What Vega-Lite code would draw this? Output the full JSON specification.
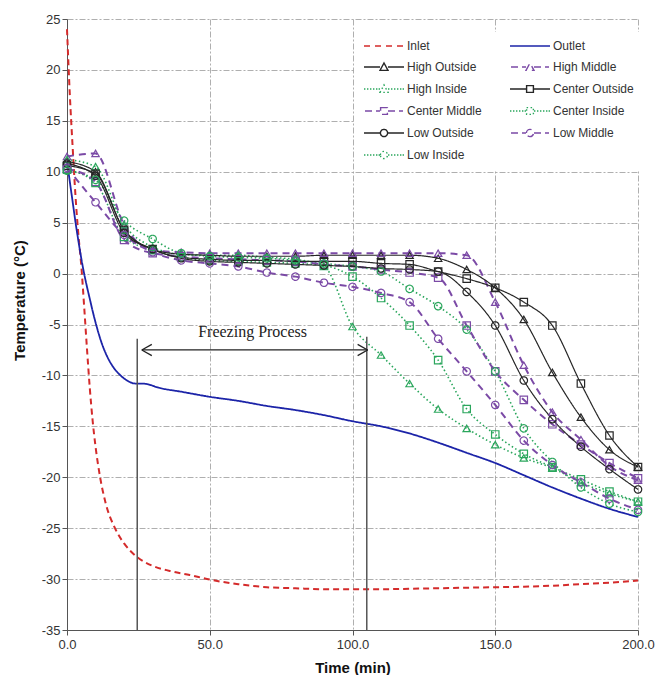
{
  "$schema": "https://vega.github.io/schema/vega-lite/v6.json",
  "width": 571,
  "height": 611,
  "autosize": "none",
  "padding": {"left": 67, "top": 19, "right": 21, "bottom": 45},
  "background": "white",
  "config": {
    "view": {"stroke": null},
    "font": "Liberation Sans",
    "axisX": {"grid": true, "gridDash": [6, 2, 2, 2], "gridColor": "#9a9a9a", "gridWidth": 0.8, "domainColor": "#555", "tickColor": "#555", "tickSize": 5, "labelFontSize": 13, "labelColor": "#333", "labelFont": "Liberation Sans", "labelPadding": 3, "labelFlush": false, "titleFont": "Liberation Sans", "titleFontSize": 15, "titleFontWeight": "bold", "titleColor": "#111", "titlePadding": 9},
    "axisY": {"grid": true, "gridDash": [6, 2, 2, 2], "gridColor": "#9a9a9a", "gridWidth": 0.8, "domainColor": "#555", "tickColor": "#555", "tickSize": 5, "labelFontSize": 13, "labelColor": "#333", "labelFont": "Liberation Sans", "labelPadding": 2, "labelFlush": false, "titleFont": "Liberation Sans", "titleFontSize": 15, "titleFontWeight": "bold", "titleColor": "#111", "titlePadding": 14, "titleY": 281}
  },
  "datasets": {
    "temps": [
      {"series": "Inlet", "t": 0, "v": 24.0}, {"series": "Inlet", "t": 1, "v": 17.5}, {"series": "Inlet", "t": 2, "v": 12.3}, {"series": "Inlet", "t": 3, "v": 7.5}, {"series": "Inlet", "t": 4, "v": 3.8}, {"series": "Inlet", "t": 5, "v": 0.8}, {"series": "Inlet", "t": 6, "v": -3.2}, {"series": "Inlet", "t": 7, "v": -7.4}, {"series": "Inlet", "t": 8, "v": -11.3}, {"series": "Inlet", "t": 9, "v": -14.5}, {"series": "Inlet", "t": 10, "v": -17.0}, {"series": "Inlet", "t": 11.6, "v": -20.0}, {"series": "Inlet", "t": 13.5, "v": -22.5}, {"series": "Inlet", "t": 16.8, "v": -25.0}, {"series": "Inlet", "t": 20, "v": -26.5}, {"series": "Inlet", "t": 24.4, "v": -27.8}, {"series": "Inlet", "t": 30, "v": -28.7}, {"series": "Inlet", "t": 36, "v": -29.2}, {"series": "Inlet", "t": 43, "v": -29.6}, {"series": "Inlet", "t": 50, "v": -30.05}, {"series": "Inlet", "t": 60, "v": -30.5}, {"series": "Inlet", "t": 70, "v": -30.8}, {"series": "Inlet", "t": 80, "v": -30.9}, {"series": "Inlet", "t": 90, "v": -31.0}, {"series": "Inlet", "t": 100, "v": -31.0}, {"series": "Inlet", "t": 110, "v": -31.0}, {"series": "Inlet", "t": 120, "v": -30.95}, {"series": "Inlet", "t": 130, "v": -30.9}, {"series": "Inlet", "t": 140, "v": -30.85}, {"series": "Inlet", "t": 150, "v": -30.8}, {"series": "Inlet", "t": 160, "v": -30.75}, {"series": "Inlet", "t": 170, "v": -30.65}, {"series": "Inlet", "t": 180, "v": -30.5}, {"series": "Inlet", "t": 190, "v": -30.35}, {"series": "Inlet", "t": 200, "v": -30.15},
      {"series": "Outlet", "t": 0, "v": 11.0}, {"series": "Outlet", "t": 1, "v": 9.0}, {"series": "Outlet", "t": 2, "v": 7.0}, {"series": "Outlet", "t": 3, "v": 5.0}, {"series": "Outlet", "t": 4, "v": 3.2}, {"series": "Outlet", "t": 5, "v": 1.5}, {"series": "Outlet", "t": 6, "v": 0.0}, {"series": "Outlet", "t": 7, "v": -1.3}, {"series": "Outlet", "t": 8, "v": -2.5}, {"series": "Outlet", "t": 9, "v": -3.7}, {"series": "Outlet", "t": 10, "v": -4.8}, {"series": "Outlet", "t": 12, "v": -6.7}, {"series": "Outlet", "t": 14, "v": -8.1}, {"series": "Outlet", "t": 16, "v": -9.1}, {"series": "Outlet", "t": 18, "v": -9.8}, {"series": "Outlet", "t": 20, "v": -10.3}, {"series": "Outlet", "t": 22, "v": -10.65}, {"series": "Outlet", "t": 24, "v": -10.8}, {"series": "Outlet", "t": 26, "v": -10.8}, {"series": "Outlet", "t": 28, "v": -10.85}, {"series": "Outlet", "t": 32, "v": -11.2}, {"series": "Outlet", "t": 40, "v": -11.6}, {"series": "Outlet", "t": 50, "v": -12.1}, {"series": "Outlet", "t": 60, "v": -12.5}, {"series": "Outlet", "t": 70, "v": -13.0}, {"series": "Outlet", "t": 80, "v": -13.4}, {"series": "Outlet", "t": 90, "v": -13.9}, {"series": "Outlet", "t": 100, "v": -14.5}, {"series": "Outlet", "t": 110, "v": -15.0}, {"series": "Outlet", "t": 120, "v": -15.7}, {"series": "Outlet", "t": 130, "v": -16.6}, {"series": "Outlet", "t": 140, "v": -17.6}, {"series": "Outlet", "t": 150, "v": -18.6}, {"series": "Outlet", "t": 160, "v": -19.8}, {"series": "Outlet", "t": 170, "v": -21.0}, {"series": "Outlet", "t": 180, "v": -22.1}, {"series": "Outlet", "t": 190, "v": -23.1}, {"series": "Outlet", "t": 200, "v": -23.9},
      {"series": "High Outside", "t": 0, "v": 11.0}, {"series": "High Outside", "t": 10, "v": 10.0}, {"series": "High Outside", "t": 20, "v": 4.3}, {"series": "High Outside", "t": 30, "v": 2.4}, {"series": "High Outside", "t": 40, "v": 1.9}, {"series": "High Outside", "t": 50, "v": 1.8}, {"series": "High Outside", "t": 60, "v": 1.7}, {"series": "High Outside", "t": 70, "v": 1.7}, {"series": "High Outside", "t": 80, "v": 1.7}, {"series": "High Outside", "t": 90, "v": 1.8}, {"series": "High Outside", "t": 100, "v": 1.8}, {"series": "High Outside", "t": 110, "v": 1.8}, {"series": "High Outside", "t": 120, "v": 1.8}, {"series": "High Outside", "t": 130, "v": 1.5}, {"series": "High Outside", "t": 140, "v": 0.4}, {"series": "High Outside", "t": 150, "v": -1.4}, {"series": "High Outside", "t": 160, "v": -4.5}, {"series": "High Outside", "t": 170, "v": -9.7}, {"series": "High Outside", "t": 180, "v": -14.1}, {"series": "High Outside", "t": 190, "v": -17.3}, {"series": "High Outside", "t": 200, "v": -19.0},
      {"series": "High Middle", "t": 0, "v": 11.5}, {"series": "High Middle", "t": 10, "v": 11.8}, {"series": "High Middle", "t": 20, "v": 4.8}, {"series": "High Middle", "t": 30, "v": 2.3}, {"series": "High Middle", "t": 40, "v": 2.1}, {"series": "High Middle", "t": 50, "v": 2.0}, {"series": "High Middle", "t": 60, "v": 2.0}, {"series": "High Middle", "t": 70, "v": 2.0}, {"series": "High Middle", "t": 80, "v": 2.0}, {"series": "High Middle", "t": 90, "v": 2.0}, {"series": "High Middle", "t": 100, "v": 2.0}, {"series": "High Middle", "t": 110, "v": 2.0}, {"series": "High Middle", "t": 120, "v": 2.0}, {"series": "High Middle", "t": 130, "v": 2.0}, {"series": "High Middle", "t": 140, "v": 1.8}, {"series": "High Middle", "t": 150, "v": -2.8}, {"series": "High Middle", "t": 160, "v": -9.0}, {"series": "High Middle", "t": 170, "v": -13.6}, {"series": "High Middle", "t": 180, "v": -16.3}, {"series": "High Middle", "t": 190, "v": -18.9}, {"series": "High Middle", "t": 200, "v": -20.3},
      {"series": "High Inside", "t": 0, "v": 11.2}, {"series": "High Inside", "t": 10, "v": 10.5}, {"series": "High Inside", "t": 20, "v": 4.8}, {"series": "High Inside", "t": 30, "v": 2.6}, {"series": "High Inside", "t": 40, "v": 1.9}, {"series": "High Inside", "t": 50, "v": 1.8}, {"series": "High Inside", "t": 60, "v": 1.8}, {"series": "High Inside", "t": 70, "v": 1.6}, {"series": "High Inside", "t": 80, "v": 1.4}, {"series": "High Inside", "t": 90, "v": 0.7}, {"series": "High Inside", "t": 100, "v": -5.2}, {"series": "High Inside", "t": 110, "v": -8.0}, {"series": "High Inside", "t": 120, "v": -10.8}, {"series": "High Inside", "t": 130, "v": -13.3}, {"series": "High Inside", "t": 140, "v": -15.2}, {"series": "High Inside", "t": 150, "v": -16.8}, {"series": "High Inside", "t": 160, "v": -18.1}, {"series": "High Inside", "t": 170, "v": -19.1}, {"series": "High Inside", "t": 180, "v": -20.5}, {"series": "High Inside", "t": 190, "v": -21.6}, {"series": "High Inside", "t": 200, "v": -22.4},
      {"series": "Center Outside", "t": 0, "v": 10.6}, {"series": "Center Outside", "t": 10, "v": 9.8}, {"series": "Center Outside", "t": 20, "v": 4.3}, {"series": "Center Outside", "t": 30, "v": 2.4}, {"series": "Center Outside", "t": 40, "v": 1.6}, {"series": "Center Outside", "t": 50, "v": 1.4}, {"series": "Center Outside", "t": 60, "v": 1.3}, {"series": "Center Outside", "t": 70, "v": 1.3}, {"series": "Center Outside", "t": 80, "v": 1.2}, {"series": "Center Outside", "t": 90, "v": 1.2}, {"series": "Center Outside", "t": 100, "v": 1.2}, {"series": "Center Outside", "t": 110, "v": 1.0}, {"series": "Center Outside", "t": 120, "v": 0.9}, {"series": "Center Outside", "t": 130, "v": 0.2}, {"series": "Center Outside", "t": 140, "v": -0.5}, {"series": "Center Outside", "t": 150, "v": -1.4}, {"series": "Center Outside", "t": 160, "v": -2.8}, {"series": "Center Outside", "t": 170, "v": -5.1}, {"series": "Center Outside", "t": 180, "v": -10.8}, {"series": "Center Outside", "t": 190, "v": -15.9}, {"series": "Center Outside", "t": 200, "v": -19.0},
      {"series": "Center Middle", "t": 0, "v": 10.3}, {"series": "Center Middle", "t": 10, "v": 9.0}, {"series": "Center Middle", "t": 20, "v": 3.3}, {"series": "Center Middle", "t": 30, "v": 2.0}, {"series": "Center Middle", "t": 40, "v": 1.7}, {"series": "Center Middle", "t": 50, "v": 1.5}, {"series": "Center Middle", "t": 60, "v": 1.4}, {"series": "Center Middle", "t": 70, "v": 1.3}, {"series": "Center Middle", "t": 80, "v": 1.2}, {"series": "Center Middle", "t": 90, "v": 0.9}, {"series": "Center Middle", "t": 100, "v": 0.7}, {"series": "Center Middle", "t": 110, "v": 0.4}, {"series": "Center Middle", "t": 120, "v": 0.1}, {"series": "Center Middle", "t": 130, "v": -0.4}, {"series": "Center Middle", "t": 140, "v": -5.1}, {"series": "Center Middle", "t": 150, "v": -9.6}, {"series": "Center Middle", "t": 160, "v": -12.4}, {"series": "Center Middle", "t": 170, "v": -14.8}, {"series": "Center Middle", "t": 180, "v": -16.8}, {"series": "Center Middle", "t": 190, "v": -18.6}, {"series": "Center Middle", "t": 200, "v": -20.1},
      {"series": "Center Inside", "t": 0, "v": 10.2}, {"series": "Center Inside", "t": 10, "v": 8.9}, {"series": "Center Inside", "t": 20, "v": 3.6}, {"series": "Center Inside", "t": 30, "v": 2.3}, {"series": "Center Inside", "t": 40, "v": 1.6}, {"series": "Center Inside", "t": 50, "v": 1.3}, {"series": "Center Inside", "t": 60, "v": 1.2}, {"series": "Center Inside", "t": 70, "v": 1.1}, {"series": "Center Inside", "t": 80, "v": 1.0}, {"series": "Center Inside", "t": 90, "v": 0.8}, {"series": "Center Inside", "t": 100, "v": -0.3}, {"series": "Center Inside", "t": 110, "v": -2.4}, {"series": "Center Inside", "t": 120, "v": -5.1}, {"series": "Center Inside", "t": 130, "v": -8.5}, {"series": "Center Inside", "t": 140, "v": -13.3}, {"series": "Center Inside", "t": 150, "v": -15.8}, {"series": "Center Inside", "t": 160, "v": -17.7}, {"series": "Center Inside", "t": 170, "v": -19.0}, {"series": "Center Inside", "t": 180, "v": -20.2}, {"series": "Center Inside", "t": 190, "v": -21.4}, {"series": "Center Inside", "t": 200, "v": -22.4},
      {"series": "Low Outside", "t": 0, "v": 10.8}, {"series": "Low Outside", "t": 10, "v": 9.6}, {"series": "Low Outside", "t": 20, "v": 4.0}, {"series": "Low Outside", "t": 30, "v": 2.4}, {"series": "Low Outside", "t": 40, "v": 1.5}, {"series": "Low Outside", "t": 50, "v": 1.2}, {"series": "Low Outside", "t": 60, "v": 1.1}, {"series": "Low Outside", "t": 70, "v": 1.0}, {"series": "Low Outside", "t": 80, "v": 0.9}, {"series": "Low Outside", "t": 90, "v": 0.8}, {"series": "Low Outside", "t": 100, "v": 0.7}, {"series": "Low Outside", "t": 110, "v": 0.5}, {"series": "Low Outside", "t": 120, "v": 0.4}, {"series": "Low Outside", "t": 130, "v": 0.2}, {"series": "Low Outside", "t": 140, "v": -1.8}, {"series": "Low Outside", "t": 150, "v": -5.1}, {"series": "Low Outside", "t": 160, "v": -10.5}, {"series": "Low Outside", "t": 170, "v": -14.3}, {"series": "Low Outside", "t": 180, "v": -17.0}, {"series": "Low Outside", "t": 190, "v": -19.2}, {"series": "Low Outside", "t": 200, "v": -21.2},
      {"series": "Low Middle", "t": 0, "v": 10.4}, {"series": "Low Middle", "t": 10, "v": 7.0}, {"series": "Low Middle", "t": 20, "v": 3.8}, {"series": "Low Middle", "t": 30, "v": 2.1}, {"series": "Low Middle", "t": 40, "v": 1.3}, {"series": "Low Middle", "t": 50, "v": 1.0}, {"series": "Low Middle", "t": 60, "v": 0.7}, {"series": "Low Middle", "t": 70, "v": 0.1}, {"series": "Low Middle", "t": 80, "v": -0.3}, {"series": "Low Middle", "t": 90, "v": -0.9}, {"series": "Low Middle", "t": 100, "v": -1.3}, {"series": "Low Middle", "t": 110, "v": -1.9}, {"series": "Low Middle", "t": 120, "v": -2.8}, {"series": "Low Middle", "t": 130, "v": -6.4}, {"series": "Low Middle", "t": 140, "v": -9.6}, {"series": "Low Middle", "t": 150, "v": -12.9}, {"series": "Low Middle", "t": 160, "v": -16.4}, {"series": "Low Middle", "t": 170, "v": -18.8}, {"series": "Low Middle", "t": 180, "v": -20.5}, {"series": "Low Middle", "t": 190, "v": -22.1}, {"series": "Low Middle", "t": 200, "v": -23.2},
      {"series": "Low Inside", "t": 0, "v": 10.1}, {"series": "Low Inside", "t": 10, "v": 9.2}, {"series": "Low Inside", "t": 20, "v": 5.2}, {"series": "Low Inside", "t": 30, "v": 3.4}, {"series": "Low Inside", "t": 40, "v": 2.0}, {"series": "Low Inside", "t": 50, "v": 1.7}, {"series": "Low Inside", "t": 60, "v": 1.6}, {"series": "Low Inside", "t": 70, "v": 1.5}, {"series": "Low Inside", "t": 80, "v": 1.3}, {"series": "Low Inside", "t": 90, "v": 1.0}, {"series": "Low Inside", "t": 100, "v": 0.7}, {"series": "Low Inside", "t": 110, "v": 0.2}, {"series": "Low Inside", "t": 120, "v": -1.5}, {"series": "Low Inside", "t": 130, "v": -3.2}, {"series": "Low Inside", "t": 140, "v": -5.5}, {"series": "Low Inside", "t": 150, "v": -9.6}, {"series": "Low Inside", "t": 160, "v": -15.2}, {"series": "Low Inside", "t": 170, "v": -18.5}, {"series": "Low Inside", "t": 180, "v": -21.0}, {"series": "Low Inside", "t": 190, "v": -22.6}, {"series": "Low Inside", "t": 200, "v": -23.4}
    ]
  },
  "layer": [
    {
      "mark": {"type": "rule", "color": "#555", "strokeWidth": 1},
      "encoding": {"y": {"datum": 25, "type": "quantitative", "scale": {"domain": [-35, 25], "nice": false}, "title": "Temperature (°C)"}}
    },
    {
      "data": {"name": "temps"},
      "encoding": {
        "x": {"field": "t", "type": "quantitative", "scale": {"domain": [0, 200], "nice": false, "zero": false}, "title": "Time (min)", "axis": {"values": [0, 50, 100, 150, 200], "format": ".1f"}},
        "y": {"field": "v", "type": "quantitative", "scale": {"domain": [-35, 25], "nice": false}, "title": "Temperature (°C)", "axis": {"values": [-35, -30, -25, -20, -15, -10, -5, 0, 5, 10, 15, 20, 25], "labelExpr": "'' + datum.value"}},
        "color": {
          "field": "series", "type": "nominal",
          "scale": {
            "domain": ["Inlet", "High Outside", "High Inside", "Center Middle", "Low Outside", "Low Inside", "Outlet", "High Middle", "Center Outside", "Center Inside", "Low Middle"],
            "range": ["#d42b2b", "#262626", "#2aa65c", "#7b4aa6", "#262626", "#2aa65c", "#1c24a8", "#7b4aa6", "#262626", "#2aa65c", "#7b4aa6"]
          },
          "legend": {
            "title": null, "orient": "none", "legendX": 288, "legendY": 13, "columns": 2, "fillColor": "white", "padding": 8,
            "symbolSize": 100, "symbolOffset": 15, "symbolStrokeWidth": 1.4, "labelFont": "Liberation Sans", "labelFontSize": 12, "labelColor": "#333",
            "labelOffset": 17, "columnPadding": 25, "rowPadding": 8,
            "encode": {"symbols": {"update": {
              "shape": {"signal": "datum.value=='Inlet'?'M-4,0H-2.6M-1.8,0H-0.4M0.4,0H1.8M2.6,0H4':datum.value=='Outlet'?'M-4,0H4':(indexof(datum.value,'Outside')>=0?'M-4,0H-0.8M0.8,0H4':indexof(datum.value,'Middle')>=0?'M-3.8,0H-2.4M-1.6,0H-0.8M0.8,0H2.2M3,0H3.8':'M-4,0h0.28M-3.4,0h0.28M-2.8,0h0.28M-2.2,0h0.28M-1.6,0h0.28M-1.08,0h0.28M0.8,0h0.28M1.4,0h0.28M2,0h0.28M2.6,0h0.28M3.2,0h0.28M3.72,0h0.28')+(indexof(datum.value,'High')==0?'M-0.8,0.68L0,-0.8L0.8,0.68Z':indexof(datum.value,'Center')==0?'M-0.68,-0.68H0.68V0.68H-0.68Z':'M-0.72,0A0.72,0.72,0,1,1,0.72,0A0.72,0.72,0,1,1,-0.72,0Z')"},
              "size": {"value": 100},
              "fill": {"value": "transparent"},
              "strokeDash": {"value": []},
              "strokeWidth": {"value": 1.4}
            }}}
          }
        },
        "strokeDash": {
          "field": "series", "type": "nominal", "legend": null,
          "scale": {
            "domain": ["Inlet", "High Outside", "High Inside", "Center Middle", "Low Outside", "Low Inside", "Outlet", "High Middle", "Center Outside", "Center Inside", "Low Middle"],
            "range": [[6, 4], [1, 0], [1.5, 2.5], [7, 5], [1, 0], [1.5, 2.5], [1, 0], [7, 5], [1, 0], [1.5, 2.5], [7, 5]]
          }
        }
      },
      "layer": [
        {"transform": [{"filter": "datum.series == 'Inlet'"}], "mark": {"type": "line", "strokeWidth": 2, "interpolate": "monotone"}},
        {"transform": [{"filter": "datum.series == 'Outlet'"}], "mark": {"type": "line", "strokeWidth": 1.8, "interpolate": "monotone"}},
        {"transform": [{"filter": "indexof(datum.series, 'Inside') >= 0"}], "mark": {"type": "line", "strokeWidth": 1.6, "interpolate": "monotone"}},
        {"transform": [{"filter": "indexof(datum.series, 'Middle') >= 0"}], "mark": {"type": "line", "strokeWidth": 2, "interpolate": "monotone"}},
        {"transform": [{"filter": "indexof(datum.series, 'Outside') >= 0"}], "mark": {"type": "line", "strokeWidth": 1.2, "interpolate": "monotone"}},
        {
          "transform": [{"filter": "datum.series != 'Inlet' && datum.series != 'Outlet'"}],
          "mark": {"type": "point", "filled": false, "size": 55, "strokeWidth": 1.2, "opacity": 1},
          "encoding": {
            "strokeDash": {"value": [1, 0]},
            "shape": {
              "field": "series", "type": "nominal", "legend": null,
              "scale": {
                "domain": ["High Outside", "High Middle", "High Inside", "Center Outside", "Center Middle", "Center Inside", "Low Outside", "Low Middle", "Low Inside"],
                "range": ["triangle-up", "triangle-up", "triangle-up", "square", "square", "square", "circle", "circle", "circle"]
              }
            }
          }
        }
      ]
    },
    {
      "data": {"values": [
        {"t": 24.6, "v": -35, "t2": 24.6, "v2": -6.4},
        {"t": 105, "v": -35, "t2": 105, "v2": -6.2}
      ]},
      "mark": {"type": "rule", "color": "#555", "strokeWidth": 1.5},
      "encoding": {
        "x": {"field": "t", "type": "quantitative", "title": "Time (min)"},
        "y": {"field": "v", "type": "quantitative", "title": "Temperature (°C)"},
        "x2": {"field": "t2"},
        "y2": {"field": "v2"}
      }
    },
    {
      "data": {"values": [
        {"t": 26.2, "v": -7.5, "t2": 105.3, "v2": -7.5},
        {"t": 26.2, "v": -7.5, "t2": 29.7, "v2": -6.95},
        {"t": 26.2, "v": -7.5, "t2": 29.7, "v2": -8.05},
        {"t": 105.3, "v": -7.5, "t2": 101.8, "v2": -6.95},
        {"t": 105.3, "v": -7.5, "t2": 101.8, "v2": -8.05}
      ]},
      "mark": {"type": "rule", "color": "#222", "strokeWidth": 1.3},
      "encoding": {
        "x": {"field": "t", "type": "quantitative", "title": "Time (min)"},
        "y": {"field": "v", "type": "quantitative", "title": "Temperature (°C)"},
        "x2": {"field": "t2"},
        "y2": {"field": "v2"}
      }
    },
    {
      "data": {"values": [{"t": 65, "v": -5.7, "label": "Freezing Process"}]},
      "mark": {"type": "text", "font": "Liberation Serif", "fontSize": 16, "color": "#222", "align": "center", "baseline": "middle"},
      "encoding": {
        "x": {"field": "t", "type": "quantitative", "title": "Time (min)"},
        "y": {"field": "v", "type": "quantitative", "title": "Temperature (°C)"},
        "text": {"field": "label"}
      }
    }
  ]
}
